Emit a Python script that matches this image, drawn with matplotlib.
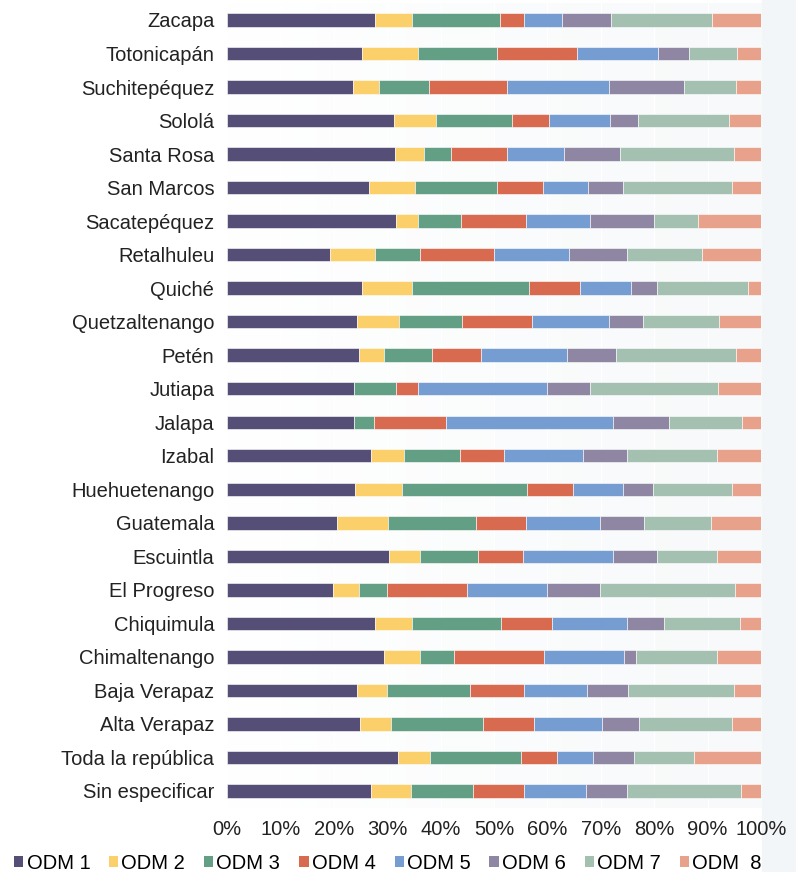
import numpy as np
import matplotlib
matplotlib.use("Agg")
import matplotlib.pyplot as plt
from matplotlib.patches import Patch, Rectangle

plt.rcParams['font.family'] = ['Liberation Sans', 'DejaVu Sans']

departamentos = ["Zacapa", "Totonicapán", "Suchitepéquez", "Sololá", "Santa Rosa",
                 "San Marcos", "Sacatepéquez", "Retalhuleu", "Quiché", "Quetzaltenango",
                 "Petén", "Jutiapa", "Jalapa", "Izabal", "Huehuetenango", "Guatemala",
                 "Escuintla", "El Progreso", "Chiquimula", "Chimaltenango", "Baja Verapaz",
                 "Alta Verapaz", "Toda la república", "Sin especificar"]

odm1 = [27.7, 25.3, 23.7, 31.2, 31.4, 26.7, 31.7, 19.4, 25.3, 24.4, 24.8, 23.8,
        23.8, 26.9, 24.0, 20.7, 30.4, 19.9, 27.7, 29.5, 24.4, 25.0, 32.0, 26.9]
odm2 = [7.0, 10.5, 4.8, 8.0, 5.5, 8.5, 4.1, 8.3, 9.4, 7.9, 4.6, 0.0,
        0.0, 6.2, 8.8, 9.5, 5.7, 4.9, 7.0, 6.6, 5.5, 5.7, 6.0, 7.5]
odm3 = [16.4, 14.8, 9.4, 14.2, 5.1, 15.4, 8.0, 8.4, 21.9, 11.8, 9.1, 7.9,
        3.7, 10.5, 23.4, 16.5, 11.0, 5.2, 16.7, 6.4, 15.6, 17.2, 17.1, 11.6]
odm4 = [4.6, 15.0, 14.5, 7.0, 10.4, 8.5, 12.2, 13.9, 9.5, 13.0, 9.1, 4.1,
        13.6, 8.2, 8.6, 9.4, 8.3, 14.9, 9.5, 16.9, 10.2, 9.6, 6.7, 9.7]
odm5 = [7.0, 15.1, 19.1, 11.3, 10.8, 8.6, 12.0, 14.1, 9.5, 14.4, 16.1, 24.1,
        31.2, 14.8, 9.4, 13.8, 16.9, 15.0, 14.1, 15.0, 11.8, 12.7, 6.7, 11.5]
odm6 = [9.3, 5.9, 14.1, 5.2, 10.4, 6.5, 12.0, 10.9, 5.0, 6.5, 9.1, 8.1,
        10.4, 8.4, 5.6, 8.2, 8.2, 10.0, 6.9, 2.2, 7.6, 6.9, 7.7, 7.8]
odm7 = [18.9, 9.0, 9.8, 17.1, 21.3, 20.3, 8.2, 13.9, 16.9, 14.2, 22.6, 23.9,
        13.8, 16.7, 14.7, 12.5, 11.2, 25.2, 14.1, 15.2, 19.8, 17.4, 11.2, 21.2]
odm8 = [9.1, 4.4, 4.6, 6.0, 5.1, 5.5, 11.8, 11.1, 2.5, 7.8, 4.6, 8.1,
        3.5, 8.3, 5.5, 9.4, 8.3, 4.9, 4.0, 8.2, 5.1, 5.5, 12.6, 3.8]

series = [odm1, odm2, odm3, odm4, odm5, odm6, odm7, odm8]
nombres = ["ODM 1", "ODM 2", "ODM 3", "ODM 4", "ODM 5", "ODM 6", "ODM 7", "ODM  8"]
colores = ["#554e76", "#fbd06a", "#639f84", "#d86a50", "#769dd2", "#8f86a3",
           "#a4c0b1", "#e8a28b"]

fig = plt.figure(figsize=(7.96, 8.72), dpi=100)
# franja gris clara a la derecha del gráfico
fig.patches.append(Rectangle((0.957, 0), 0.043, 1, transform=fig.transFigure,
                             color="#f3f6f8", zorder=-5))
ax = fig.add_axes([0.285, 0.0737, 0.671, 0.9226])
ax.set_zorder(1)

grad = np.linspace(0, 1, 256).reshape(1, -1)
cmap = matplotlib.colors.LinearSegmentedColormap.from_list("bg", ["#ffffff", "#f7f9fa"])
ax.imshow(grad, extent=[0, 100, -0.5, len(departamentos) - 0.5], aspect="auto",
          cmap=cmap, zorder=0)

# normalizar a 100%
datos = np.array(series, dtype=float)
datos = datos / datos.sum(axis=0) * 100

y = np.arange(len(departamentos))
izq = np.zeros(len(departamentos))
for vals, nom, col in zip(datos, nombres, colores):
    ax.barh(y, vals, left=izq, height=0.4, color=col, edgecolor="#ffffff",
            linewidth=0.4, label=nom, zorder=3)
    izq += vals

ax.set_xlim(0, 100)
ax.set_ylim(len(departamentos) - 0.5, -0.5)
ax.set_yticks(y)
ax.set_yticklabels(departamentos, fontsize=14.5, color="#222222")
ax.set_xticks(np.arange(0, 101, 10))
ax.set_xticklabels([f"{v}%" for v in range(0, 101, 10)], fontsize=14.5, color="#222222")
ax.tick_params(axis="both", length=0)
ax.tick_params(axis="y", pad=9)
ax.tick_params(axis="x", pad=9)
ax.grid(axis="x", color="#ffffff", linewidth=1.0, zorder=1)
for s in ax.spines.values():
    s.set_visible(False)

handles = [Patch(facecolor=c, label=n) for c, n in zip(colores, nombres)]
fig.legend(handles=handles, loc="lower left", bbox_to_anchor=(0.008, -0.010), ncol=8,
           frameon=False, fontsize=14.5, handlelength=0.45, handleheight=0.45,
           handletextpad=0.15, columnspacing=0.95, borderaxespad=0)

fig.savefig("out.png", dpi=100)
